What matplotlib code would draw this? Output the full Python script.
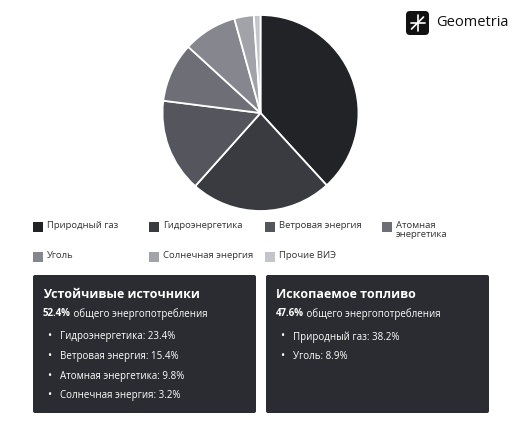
import matplotlib
matplotlib.use("Agg")
import matplotlib.pyplot as plt
from matplotlib.patches import FancyBboxPatch, Rectangle

plt.rcParams['font.family'] = ['Open Sans', 'DejaVu Sans']

# ---- data ----
categories = ["Природный газ", "Гидроэнергетика", "Ветровая энергия", "Атомная\nэнергетика",
              "Уголь", "Солнечная энергия", "Прочие ВИЭ"]
values = [38.2, 23.4, 15.4, 9.8, 8.9, 3.2, 1.1]
colors = ["#222327", "#3a3b41", "#55565d", "#6d6e76", "#85868e", "#a2a3a9", "#c4c5ca"]

sust_title = "Устойчивые источники"
sust_share = "52.4%"
sust_items = ["Гидроэнергетика: 23.4%", "Ветровая энергия: 15.4%",
              "Атомная энергетика: 9.8%", "Солнечная энергия: 3.2%"]
fossil_title = "Ископаемое топливо"
fossil_share = "47.6%"
fossil_items = ["Природный газ: 38.2%", "Уголь: 8.9%"]
share_suffix = " общего энергопотребления"

W, H = 521, 430
fig = plt.figure(figsize=(W / 100, H / 100), dpi=100)
fig.patch.set_facecolor("white")

def fx(x): return x / W
def fy(y): return 1 - y / H

# ---- pie ----
cx, cy, r = 260.5, 113, 98
ax = fig.add_axes([fx(cx - r), fy(cy + r), 2 * r / W, 2 * r / H])
ax.pie(values, colors=colors, startangle=90, counterclock=False,
       wedgeprops=dict(edgecolor="white", linewidth=1.3))
ax.set_xlim(-1, 1)
ax.set_ylim(-1, 1)
ax.set_aspect("equal")
ax.axis("off")

# ---- overlay axes in pixel coords ----
ov = fig.add_axes([0, 0, 1, 1], zorder=5)
ov.set_xlim(0, W)
ov.set_ylim(H, 0)
ov.axis("off")

# legend
leg_pos = [(33, 227), (149, 227), (265, 227), (382, 227),
           (33, 257), (149, 257), (265, 257)]
for (lx, ly), lab, c in zip(leg_pos, categories, colors):
    ov.add_patch(Rectangle((lx, ly - 5), 10, 10, facecolor=c, edgecolor="none"))
    ov.text(lx + 14, ly - 6, lab, fontsize=6.8, color="#333333", va="top", ha="left",
            linespacing=1.0)

# boxes
def card(x0, x1, y0, y1, title, share, items):
    ov.add_patch(FancyBboxPatch((x0, y0), x1 - x0, y1 - y0,
                                boxstyle="round,pad=0,rounding_size=2",
                                facecolor="#2b2c31", edgecolor="none"))
    ov.text(x0 + 10, y0 + 19, title, fontsize=9, fontweight="bold", color="white",
            va="center", ha="left")
    t = ov.text(x0 + 10, y0 + 39, share, fontsize=7, fontweight="bold", color="white",
                va="center", ha="left")
    fig.canvas.draw()
    bb = t.get_window_extent()
    inv = ov.transData.inverted()
    xe = inv.transform((bb.x1, bb.y0))[0]
    ov.text(xe, y0 + 39, share_suffix, fontsize=7, color="white", va="center", ha="left")
    for i, it in enumerate(items):
        yy = y0 + 62 + i * 19.5
        ov.text(x0 + 14, yy, "•", fontsize=8, color="white", va="center", ha="left")
        ov.text(x0 + 27, yy, it, fontsize=7, color="white", va="center", ha="left")

card(33, 256, 275, 413, sust_title, sust_share, sust_items)
card(266, 489, 275, 413, fossil_title, fossil_share, fossil_items)

# logo
ov.add_patch(FancyBboxPatch((406, 11), 23, 24, boxstyle="round,pad=0,rounding_size=4",
                            facecolor="#111111", edgecolor="none"))
lcx, lcy = 417.5, 23
ov.plot([lcx, lcx], [lcy - 8, lcy + 8], color="white", lw=1.2, solid_capstyle="round")
ov.plot([lcx - 7, lcx + 7], [lcy, lcy], color="white", lw=1.2, solid_capstyle="round")
ov.plot([lcx - 6, lcx + 6], [lcy + 6, lcy - 6], color="white", lw=1.2, solid_capstyle="round")
ov.text(436, 23, "Geometria", fontsize=10.5, color="#111111", va="center", ha="left")

fig.savefig("out.png", dpi=100, facecolor="white")
